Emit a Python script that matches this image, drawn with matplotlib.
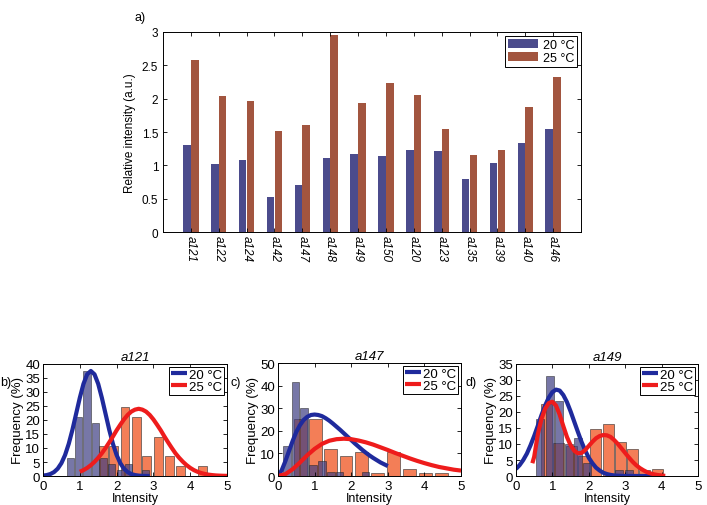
import matplotlib
matplotlib.use("Agg")
import matplotlib.pyplot as plt
from matplotlib.ticker import FormatStrFormatter

plt.rcParams['font.family'] = ['Liberation Sans', 'DejaVu Sans']

# ---- panel a data ----
samples = ['a121', 'a122', 'a124', 'a142', 'a147', 'a148', 'a149',
           'a150', 'a120', 'a123', 'a135', 'a139', 'a140', 'a146']
rel_20 = [1.30, 1.02, 1.08, 0.53, 0.70, 1.11, 1.17, 1.14, 1.23, 1.21, 0.79, 1.04, 1.34, 1.54]
rel_25 = [2.58, 2.04, 1.97, 1.52, 1.60, 2.95, 1.93, 2.24, 2.06, 1.55, 1.15, 1.23, 1.88, 2.32]

# ---- panel b (a121) ----
b_blue_x = [0.75, 0.97, 1.20, 1.42, 1.65, 1.87, 2.10, 2.32, 2.78]
b_blue_h = [6.3, 21.0, 37.5, 18.8, 6.3, 4.2, 2.1, 4.2, 2.1]
b_orange_x = [1.65, 1.92, 2.23, 2.53, 2.82, 3.13, 3.43, 3.73, 4.33]
b_orange_h = [10.6, 10.6, 24.5, 21.0, 7.0, 14.0, 7.0, 3.5, 3.5]
b_fit20_x = [0.0, 0.1, 0.2, 0.3, 0.4, 0.5, 0.6, 0.7, 0.8, 0.9, 1.0, 1.1, 1.2, 1.3, 1.4,
             1.5, 1.6, 1.7, 1.8, 1.9, 2.0, 2.1, 2.2, 2.3, 2.4, 2.5, 2.6, 2.7, 2.8, 2.9]
b_fit20_y = [0.14, 0.33, 0.70, 1.40, 2.62, 4.58, 7.49, 11.5, 16.5, 22.2, 27.9, 32.9, 36.3, 37.5,
             36.3, 32.9, 27.9, 22.2, 16.5, 11.5, 7.5, 4.6, 2.6, 1.4, 0.7, 0.33, 0.14, 0.05, 0.02, 0.0]
b_fit25_x = [1.0, 1.1, 1.2, 1.3, 1.4, 1.5, 1.6, 1.7, 1.8, 1.9, 2.0, 2.1, 2.2, 2.3, 2.4, 2.5,
             2.6, 2.7, 2.8, 2.9, 3.0, 3.1, 3.2, 3.3, 3.4, 3.5, 3.6, 3.7, 3.8, 3.9, 4.0, 4.1,
             4.2, 4.3, 4.4, 4.5, 4.6, 4.7, 4.8, 4.9, 5.0]
b_fit25_y = [1.51, 2.11, 2.88, 3.86, 5.06, 6.49, 8.14, 10.0, 12.0, 14.1, 16.3, 18.3, 20.2, 21.8,
             23.0, 23.7, 24.0, 23.7, 23.0, 21.8, 20.2, 18.3, 16.3, 14.1, 12.0, 10.0, 8.1, 6.5,
             5.1, 3.9, 2.9, 2.1, 1.5, 1.06, 0.72, 0.48, 0.32, 0.20, 0.13, 0.08, 0.05]

# ---- panel c (a147) ----
c_blue_x = [0.25, 0.47, 0.71, 0.96, 1.20, 1.45, 1.68, 2.39]
c_blue_h = [13.3, 41.5, 30.0, 5.0, 6.7, 1.7, 1.7, 1.7]
c_orange_x = [0.62, 1.02, 1.44, 1.86, 2.29, 2.72, 3.15, 3.59, 4.03, 4.46]
c_orange_h = [25.3, 25.3, 12.0, 8.8, 10.6, 1.5, 10.6, 3.0, 1.5, 1.5]
c_fit20_x = [0.0, 0.1, 0.2, 0.3, 0.4, 0.5, 0.6, 0.7, 0.8, 0.9, 1.0, 1.1, 1.2, 1.3, 1.4, 1.5,
             1.6, 1.7, 1.8, 1.9, 2.0, 2.1, 2.2, 2.3, 2.4, 2.5, 2.6, 2.7, 2.8, 2.9, 3.0]
c_fit20_y = [0.0, 2.5, 6.5, 11.0, 15.5, 19.5, 22.5, 24.8, 26.2, 27.0, 27.2, 27.0, 26.5, 25.6,
             24.5, 23.2, 21.8, 20.4, 18.9, 17.4, 15.9, 14.4, 13.0, 11.6, 10.3, 9.1, 8.0, 7.0,
             6.0, 5.2, 4.4]
c_fit25_x = [0.0, 0.2, 0.4, 0.6, 0.8, 1.0, 1.2, 1.4, 1.6, 1.8, 2.0, 2.2, 2.4, 2.6, 2.8, 3.0,
             3.2, 3.4, 3.6, 3.8, 4.0, 4.2, 4.4, 4.6, 4.8, 5.0]
c_fit25_y = [0.0, 0.8, 3.0, 6.0, 9.2, 12.0, 14.2, 15.6, 16.3, 16.5, 16.3, 15.7, 14.9, 13.9,
             12.7, 11.5, 10.2, 9.0, 7.8, 6.7, 5.7, 4.8, 4.0, 3.4, 2.8, 2.4]

# ---- panel d (a149) ----
d_blue_x = [0.67, 0.93, 1.19, 1.45, 1.70, 1.96, 2.83, 3.10]
d_blue_h = [17.8, 31.3, 23.5, 10.0, 12.0, 4.2, 2.0, 2.0]
d_orange_x = [0.85, 1.18, 1.52, 1.85, 2.19, 2.53, 2.87, 3.20, 3.54, 3.88]
d_orange_h = [22.6, 10.2, 9.5, 6.4, 14.6, 16.4, 10.5, 8.3, 2.0, 2.3]
d_fit20_x = [0.0, 0.1, 0.2, 0.3, 0.4, 0.5, 0.6, 0.7, 0.8, 0.9, 1.0, 1.1, 1.2, 1.3, 1.4, 1.5,
             1.6, 1.7, 1.8, 1.9, 2.0, 2.1, 2.2, 2.3, 2.4, 2.5, 2.6, 2.7, 2.8, 2.9, 3.0, 3.5, 4.0]
d_fit20_y = [2.2, 3.4, 5.0, 7.0, 9.6, 12.5, 15.7, 19.0, 22.0, 24.5, 26.2, 27.0, 26.7, 25.3,
             23.1, 20.2, 17.0, 13.8, 10.7, 8.0, 5.7, 4.0, 2.6, 1.7, 1.0, 0.6, 0.34, 0.18, 0.09,
             0.04, 0.02, 0.0, 0.0]
d_fit25_x = [0.45, 0.5, 0.6, 0.7, 0.8, 0.9, 1.0, 1.1, 1.2, 1.3, 1.4, 1.5, 1.6, 1.7, 1.8, 1.9,
             2.0, 2.1, 2.2, 2.3, 2.4, 2.5, 2.6, 2.7, 2.8, 2.9, 3.0, 3.1, 3.2, 3.3, 3.4, 3.5,
             3.6, 3.7, 3.8, 3.9, 4.0, 4.1]
d_fit25_y = [4.0, 6.0, 13.0, 17.8, 21.0, 22.8, 23.2, 22.0, 19.2, 15.6, 12.2, 9.6, 7.9, 7.1,
             7.2, 8.1, 9.4, 10.7, 11.8, 12.5, 12.8, 12.7, 12.2, 11.2, 10.0, 8.6, 7.2, 5.8,
             4.5, 3.4, 2.5, 1.8, 1.2, 0.8, 0.5, 0.3, 0.15, 0.05]

BAR_BLUE = '#4b4b8c'
BAR_BROWN = '#a2553f'
HIST_BLUE = '#3e3e82'
HIST_ORANGE = '#f2683a'


def box_ticks(ax):
    ax.tick_params(direction='in', top=True, right=True, length=3, width=0.6)
    for s in ax.spines.values():
        s.set_linewidth(0.7)


fig = plt.figure(figsize=(7.07, 5.06), dpi=100)

# ---------- panel a ----------
ax = fig.add_axes([0.2306, 0.5395, 0.5912, 0.3953])
pos = list(range(1, len(samples) + 1))
ax.bar([p - 0.14 for p in pos], rel_20, width=0.27, color=BAR_BLUE, label='20 °C')
ax.bar([p + 0.14 for p in pos], rel_25, width=0.27, color=BAR_BROWN, label='25 °C')
ax.set_xlim(0, 15)
ax.set_ylim(0, 3)
ax.set_yticks([0, 0.5, 1, 1.5, 2, 2.5, 3])
ax.yaxis.set_major_formatter(FormatStrFormatter('%g'))
ax.set_xticks(pos)
ax.set_xticklabels(samples, rotation=-90, fontstyle='italic', fontsize=8.5)
ax.tick_params(axis='y', labelsize=8.5)
box_ticks(ax)
ax.tick_params(axis='x', pad=2)
ax.set_ylabel('Relative intensity (a.u.)', fontsize=8.5, labelpad=4)
leg = ax.legend(loc='upper right', fontsize=9, handlelength=2.4, handleheight=0.8,
                borderaxespad=0.3, borderpad=0.25, labelspacing=0.05, handletextpad=0.4,
                fancybox=False, framealpha=1)
leg.get_frame().set_edgecolor('black')
leg.get_frame().set_linewidth(0.7)
fig.text(0.19, 0.965, 'a)', fontsize=9, ha='left', va='center')


# ---------- bottom panels ----------
def hist_panel(rect, title, ymax, ystep, ox, oh, owidth, bx, bh, bwidth,
               f20x, f20y, f25x, f25y):
    ax = fig.add_axes(rect)
    ax.bar(ox, oh, width=owidth, color=HIST_ORANGE, alpha=0.85,
           edgecolor='#333333', linewidth=0.5)
    ax.bar(bx, bh, width=bwidth, color=HIST_BLUE, alpha=0.7,
           edgecolor='#222222', linewidth=0.5)
    ax.plot(f20x, f20y, color='#1f2a9c', lw=3, label='20 °C', solid_capstyle='butt')
    ax.plot(f25x, f25y, color='#ee1c1c', lw=3, label='25 °C', solid_capstyle='butt')
    ax.set_xlim(0, 5)
    ax.set_ylim(0, ymax)
    ax.set_xticks([0, 1, 2, 3, 4, 5])
    ax.set_yticks(list(range(0, ymax + 1, ystep)))
    ax.tick_params(labelsize=9.5)
    box_ticks(ax)
    ax.tick_params(axis='x', pad=3)
    ax.tick_params(axis='y', pad=2)
    ax.set_xlabel('Intensity', fontsize=9, labelpad=0)
    ax.set_ylabel('Frequency (%)', fontsize=9.5, labelpad=1)
    ax.set_title(title, fontsize=9.5, fontstyle='italic', pad=3)
    lg = ax.legend(loc='upper right', fontsize=9.5, handlelength=1.2, handletextpad=0.2,
                   borderaxespad=0.2, borderpad=0.15, labelspacing=0.0,
                   fancybox=False, framealpha=1)
    lg.get_frame().set_edgecolor('black')
    lg.get_frame().set_linewidth(0.7)
    return ax


hist_panel([0.0608, 0.0573, 0.2603, 0.2214], 'a121', 40, 5,
           b_orange_x, b_orange_h, 0.24, b_blue_x, b_blue_h, 0.2,
           b_fit20_x, b_fit20_y, b_fit25_x, b_fit25_y)
hist_panel([0.3932, 0.0573, 0.2589, 0.2233], 'a147', 50, 10,
           c_orange_x, c_orange_h, 0.35, c_blue_x, c_blue_h, 0.2,
           c_fit20_x, c_fit20_y, c_fit25_x, c_fit25_y)
hist_panel([0.7298, 0.0573, 0.2575, 0.2214], 'a149', 35, 5,
           d_orange_x, d_orange_h, 0.3, d_blue_x, d_blue_h, 0.22,
           d_fit20_x, d_fit20_y, d_fit25_x, d_fit25_y)

fig.text(0.0005, 0.243, 'b)', fontsize=9, ha='left', va='center')
fig.text(0.326, 0.243, 'c)', fontsize=9, ha='left', va='center')
fig.text(0.659, 0.243, 'd)', fontsize=9, ha='left', va='center')

fig.savefig('out.png', dpi=100)
